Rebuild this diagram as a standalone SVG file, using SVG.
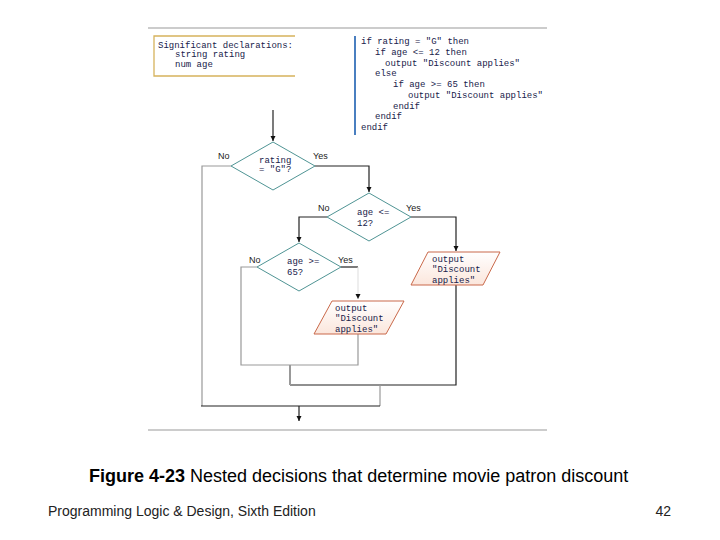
<svg xmlns="http://www.w3.org/2000/svg" width="720" height="540" viewBox="0 0 720 540">
<style>
.code{font-family:"Liberation Mono","DejaVu Sans Mono",monospace;font-size:9px;fill:#17214a}
.lbl{font-family:"Liberation Sans","DejaVu Sans",sans-serif;font-size:9px;fill:#222}
.dia{fill:#fff;stroke:#4f9494;stroke-width:1}
.io{fill:url(#pg);stroke:#c9694a;stroke-width:1}
.ln{fill:none;stroke:#222;stroke-width:1.2}
.lg{fill:none;stroke:#999;stroke-width:1.2}
.rule{stroke:#999;stroke-width:1.2}
</style>
<defs>
<linearGradient id="pg" x1="0" y1="0" x2="0" y2="1"><stop offset="0" stop-color="#ffffff"/><stop offset="1" stop-color="#fbe6dc"/></linearGradient>
<marker id="ah" markerWidth="6" markerHeight="6" refX="5" refY="3" orient="auto" markerUnits="userSpaceOnUse"><path d="M0,0.5 L5,3 L0,5.5 Z" fill="#111"/></marker>
</defs>
<rect width="720" height="540" fill="#fff"/>
<line class="rule" x1="148" y1="28" x2="547" y2="28"/>
<line class="rule" x1="148" y1="430" x2="547" y2="430"/>

<g id="declarations">
<path d="M295,36 H154 V76 H295" fill="#fff" stroke="#d6b35c" stroke-width="1.3"/>
<text class="code" x="158" y="48">Significant declarations:</text>
<text class="code" x="175" y="57">string rating</text>
<text class="code" x="175" y="67">num age</text>
</g>

<g id="pseudocode">
<line x1="355" y1="36" x2="355" y2="135" stroke="#4a7fc0" stroke-width="2"/>
<text class="code" x="361" y="44">if rating = "G" then</text>
<text class="code" x="375" y="55">if age &lt;= 12 then</text>
<text class="code" x="385" y="66">output "Discount applies"</text>
<text class="code" x="375" y="76">else</text>
<text class="code" x="393" y="87">if age &gt;= 65 then</text>
<text class="code" x="408" y="98">output "Discount applies"</text>
<text class="code" x="393" y="109">endif</text>
<text class="code" x="375" y="119">endif</text>
<text class="code" x="361" y="130">endif</text>
</g>

<g id="connectors">
<line class="ln" x1="273" y1="110" x2="273" y2="141" marker-end="url(#ah)"/>
<polyline class="lg" points="231,166 202,166 202,406"/>
<polyline class="ln" points="315,166 369,166 369,192" marker-end="url(#ah)"/>
<polyline class="ln" points="327,217 299,217 299,242" marker-end="url(#ah)"/>
<polyline class="ln" points="411,217 456,217 456,251" marker-end="url(#ah)"/>
<polyline class="lg" points="257,267 241,267 241,365 358,365 358,334"/>
<line class="ln" x1="341" y1="267" x2="358" y2="267"/>
<line x1="358" y1="267" x2="358" y2="299" stroke="#ddd" stroke-width="1" marker-end="url(#ah)"/>
<polyline class="ln" points="456,284 456,385 290,385"/>
<line x1="290" y1="365" x2="290" y2="385" stroke="#999" stroke-width="2"/>
<line class="lg" x1="380" y1="385" x2="380" y2="406"/>
<line class="ln" x1="201" y1="406" x2="380" y2="406"/>
<line class="ln" x1="299" y1="406" x2="299" y2="421" marker-end="url(#ah)"/>
</g>

<g id="d1">
<polygon class="dia" points="273,142 315,166 273,190 231,166"/>
<text class="code" x="259" y="163">rating</text>
<text class="code" x="259" y="172">= "G"?</text>
<text class="lbl" x="218" y="159">No</text>
<text class="lbl" x="313" y="159">Yes</text>
</g>

<g id="d2">
<polygon class="dia" points="369,193 411,217 369,241 327,217"/>
<text class="code" x="357" y="215">age &lt;=</text>
<text class="code" x="357" y="226">12?</text>
<text class="lbl" x="318" y="211">No</text>
<text class="lbl" x="406" y="211">Yes</text>
</g>

<g id="d3">
<polygon class="dia" points="299,243 341,267 299,291 257,267"/>
<text class="code" x="287" y="264">age &gt;=</text>
<text class="code" x="287" y="275">65?</text>
<text class="lbl" x="249" y="263">No</text>
<text class="lbl" x="338" y="263">Yes</text>
</g>

<g id="out1">
<polygon class="io" points="428,252 500,252 483,285 411,285"/>
<text class="code" x="432" y="262">output</text>
<text class="code" x="432" y="272">"Discount</text>
<text class="code" x="432" y="283">applies"</text>
</g>

<g id="out2">
<polygon class="io" points="332,301 404,301 386,334 314,334"/>
<text class="code" x="335" y="311">output</text>
<text class="code" x="335" y="321">"Discount</text>
<text class="code" x="335" y="332">applies"</text>
</g>

<text x="89" y="482" font-family="Liberation Sans, Arial, sans-serif" font-size="18" fill="#000"><tspan font-weight="bold">Figure 4-23</tspan> Nested decisions that determine movie patron discount</text>
<text x="48" y="516" font-family="Liberation Sans, Arial, sans-serif" font-size="14" fill="#222">Programming Logic &amp; Design, Sixth Edition</text>
<text x="671" y="516" text-anchor="end" font-family="Liberation Sans, Arial, sans-serif" font-size="14" fill="#222">42</text>
</svg>
